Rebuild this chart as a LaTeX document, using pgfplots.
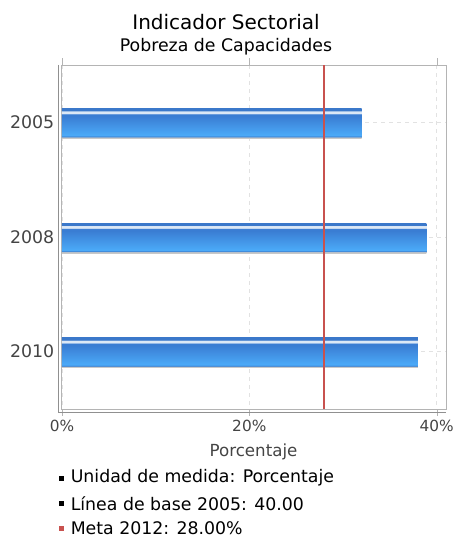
\documentclass[border=0pt]{standalone}
\usepackage{pgfplots}
\pgfplotsset{compat=1.18}
\usepackage{fontspec}
\setmainfont{DejaVu Sans}

\definecolor{shadowc}{HTML}{C8C8C8}
\definecolor{bedge}{HTML}{3E86D6}
\definecolor{lightb}{HTML}{4BAAF8}
\definecolor{darkb}{HTML}{3A7DD3}
\definecolor{stripe}{HTML}{DCE8F6}
\definecolor{topb}{HTML}{3B78CA}
\definecolor{metared}{HTML}{C8524F}
\definecolor{framegray}{HTML}{B4B4B4}
\definecolor{gridgray}{HTML}{E2E2E2}
\definecolor{ticktext}{HTML}{444444}

% vertical shading of the bars, path spans 25bp..75bp
\pgfdeclareverticalshading{barshade}{100bp}{%
  color(0bp)=(shadowc); color(26.5bp)=(shadowc); color(28bp)=(bedge);
  color(30bp)=(lightb); color(62bp)=(darkb); color(65bp)=(darkb);
  color(67bp)=(stripe); color(70bp)=(stripe); color(71.5bp)=(topb);
  color(100bp)=(topb)}

\pgfplotsset{barstyle/.style={xbar, bar width=22.5pt, bar shift=-0.75pt,
  draw=none, shading=barshade}}

\begin{document}
\begin{tikzpicture}
\begin{scope}[x=0.75pt,y=-0.75pt]
  \path[use as bounding box] (0,0) rectangle (453,538);
\end{scope}

\begin{axis}[
    at={(45.75pt,-306.75pt)}, anchor=south west,
    scale only axis,
    width=288.75pt, height=258pt,
    xmin=-0.1, xmax=41.0,
    ymin=-0.5, ymax=2.5,
    y dir=reverse,
    xtick={0,20,40},
    xticklabels={0\%,20\%,40\%},
    ytick={0,1,2},
    yticklabels={2005,2008,2010},
    xticklabel style={font=\fontsize{11.5}{13}\selectfont, text=ticktext},
    yticklabel style={font=\fontsize{13}{15}\selectfont, text=ticktext, xshift=3.5pt},
    xlabel={Porcentaje},
    xlabel style={font=\fontsize{12.5}{14}\selectfont, text=ticktext, yshift=-2pt},
    axis line style={draw=framegray, line width=0.6pt},
    xtick style={draw=framegray},
    ytick style={draw=none},
    tick align=outside,
    major tick length=5pt,
    xmajorgrids, ymajorgrids,
    major grid style={draw=gridgray, dashed, line width=0.5pt},
    clip=false,
]
\addplot[barstyle] coordinates {(32.0,0)};
\addplot[barstyle] coordinates {(38.9,1)};
\addplot[barstyle] coordinates {(38.0,2)};
\addplot[metared, line width=1.6pt, no markers]
  coordinates {(28,-0.5) (28,2.5)};
\end{axis}

\begin{scope}[x=0.75pt,y=-0.75pt]
  \draw[framegray!80!black, line width=0.6pt] (58.5,65) -- (58.5,413);
  \draw[framegray!80!black, line width=0.6pt] (58.5,412.5) -- (446,412.5);
  \node[font=\fontsize{15}{17}\selectfont] at (226,22) {Indicador Sectorial};
  \node[font=\fontsize{13}{15}\selectfont] at (226,47) {Pobreza de Capacidades};
  \foreach \yy/\cc/\tt in {478/black/{Unidad de medida: Porcentaje},
                          503.5/black/{Línea de base 2005: 40.00},
                          528.5/metared/{Meta 2012: 28.00\%}} {
    \fill[\cc] (58.5,\yy-2.5) rectangle ++(5,5);
    \node[anchor=west, font=\fontsize{13}{15}\selectfont, inner sep=0pt] at (70.5,\yy) {\tt};
  }
\end{scope}
\end{tikzpicture}
\end{document}
